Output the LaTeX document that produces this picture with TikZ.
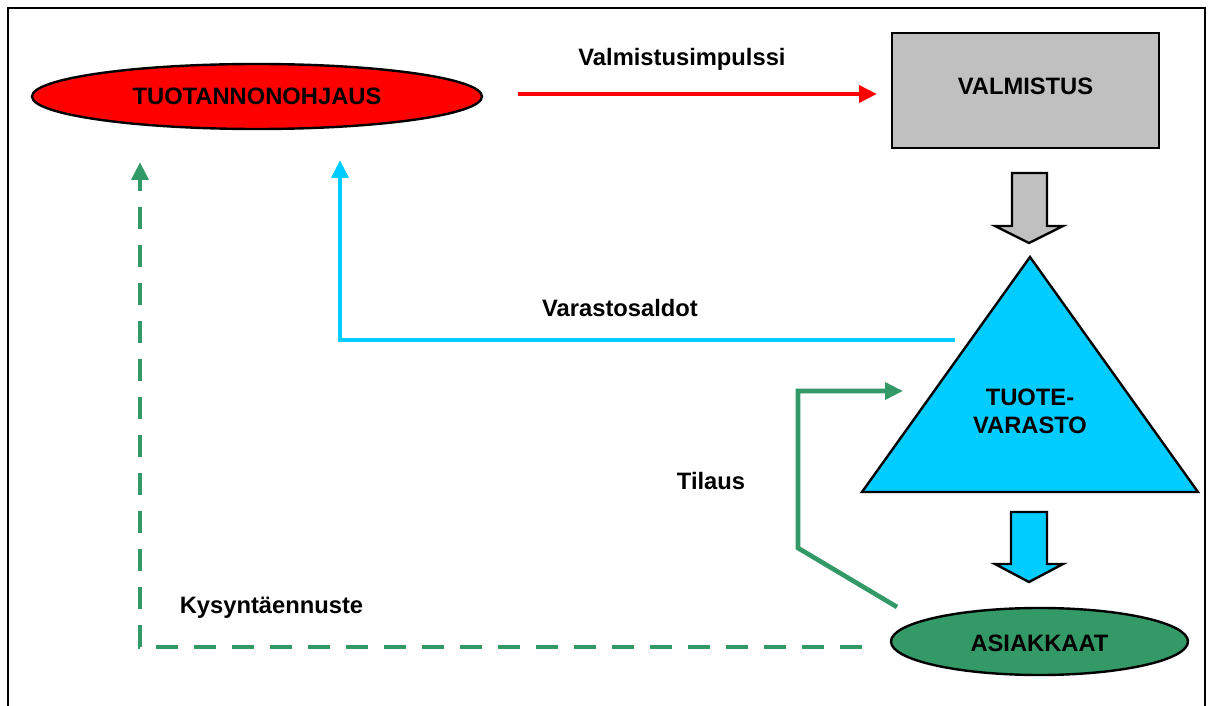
\documentclass[tikz,border=0pt]{standalone}
\usepackage{fontspec}
\setmainfont{Liberation Sans}
\usetikzlibrary{shapes.geometric,arrows.meta}
\definecolor{ctrlred}{HTML}{FF0000}
\definecolor{boxgray}{HTML}{C0C0C0}
\definecolor{stockcyan}{HTML}{00CCFF}
\definecolor{custgreen}{HTML}{339966}
\tikzset{
  lbl/.style={font=\fontsize{17.8}{21}\selectfont\bfseries, inner sep=0pt, align=center},
  outline/.style={draw=black, line width=1.8pt},
  flow/.style={line width=3.5pt, line join=miter, -{Triangle[length=13.5pt,width=12.5pt]}},
  blockarrow/.style={outline, line join=miter},
}
\begin{document}
\begin{tikzpicture}[x=0.75pt, y=-0.75pt]
  \useasboundingbox (0,0) rectangle (1208,706);
  % outer frame, open at the bottom
  \draw[line width=1.5pt] (8,720) -- (8,8) -- (1205,8) -- (1205,720);

  % main blocks
  \node[outline, ellipse, fill=ctrlred, minimum width=337.5pt, minimum height=48.75pt, inner sep=0pt]
    (ctrl) at (257,96.5) {};
  \node[lbl] (ctrlt) at (257,96.5) {TUOTANNONOHJAUS};

  \node[outline, rectangle, fill=boxgray, minimum width=200.25pt, minimum height=86.25pt, inner sep=0pt]
    (prod) at (1025.5,90.5) {};
  \node[lbl] (prodt) at (1025.5,86.5) {VALMISTUS};

  % stock triangle
  \draw[outline, fill=stockcyan, line join=miter] (1030,257) -- (1198,492) -- (862,492) -- cycle;
  \node[lbl] (stock) at (1030,411) {TUOTE-\\VARASTO};

  \node[outline, ellipse, fill=custgreen, minimum width=222.75pt, minimum height=50.25pt, inner sep=0pt]
    (cust) at (1039.5,641.5) {};
  \node[lbl] (custt) at (1039.5,643) {ASIAKKAAT};

  % block arrows between the stages
  \draw[blockarrow, fill=boxgray]
    (1012,173) -- (1047,173) -- (1047,226) -- (1063,226) -- (1029,243)
    -- (995,226) -- (1012,226) -- cycle;
  \draw[blockarrow, fill=stockcyan]
    (1011,512) -- (1047,512) -- (1047,564) -- (1063,564) -- (1029,582)
    -- (995,564) -- (1011,564) -- cycle;

  % connector end points
  \coordinate (impA) at (518,94);
  \coordinate (impB) at (877,94);
  \coordinate (salA) at (955,340);
  \coordinate (salK) at (340,340);
  \coordinate (salB) at (340,160);
  \coordinate (tilA) at (897,607);
  \coordinate (tilK1) at (798,548);
  \coordinate (tilK2) at (798,391);
  \coordinate (tilB) at (903,391);
  \coordinate (ennA) at (862,647);
  \coordinate (ennK) at (140,647);
  \coordinate (ennB) at (140,162);

  % information flows
  \draw[flow, draw=ctrlred] (impA) -- (impB);
  \draw[flow, draw=stockcyan] (salA) -- (salK) -- (salB);
  \draw[flow, draw=custgreen] (tilA) -- (tilK1) -- (tilK2) -- (tilB);
  \draw[flow, draw=custgreen, dash pattern=on 16.5pt off 12pt]
    (ennA) -- (ennK) -- (ennB);

  % flow labels
  \node[lbl, anchor=base] (impl) at (682,66) {Valmistusimpulssi};
  \node[lbl, anchor=base] (sall) at (620,317) {Varastosaldot};
  \node[lbl, anchor=base] (till) at (711,489) {Tilaus};
  \node[lbl, anchor=base] (ennl) at (271.5,613) {Kysyntäennuste};
\end{tikzpicture}
\end{document}
